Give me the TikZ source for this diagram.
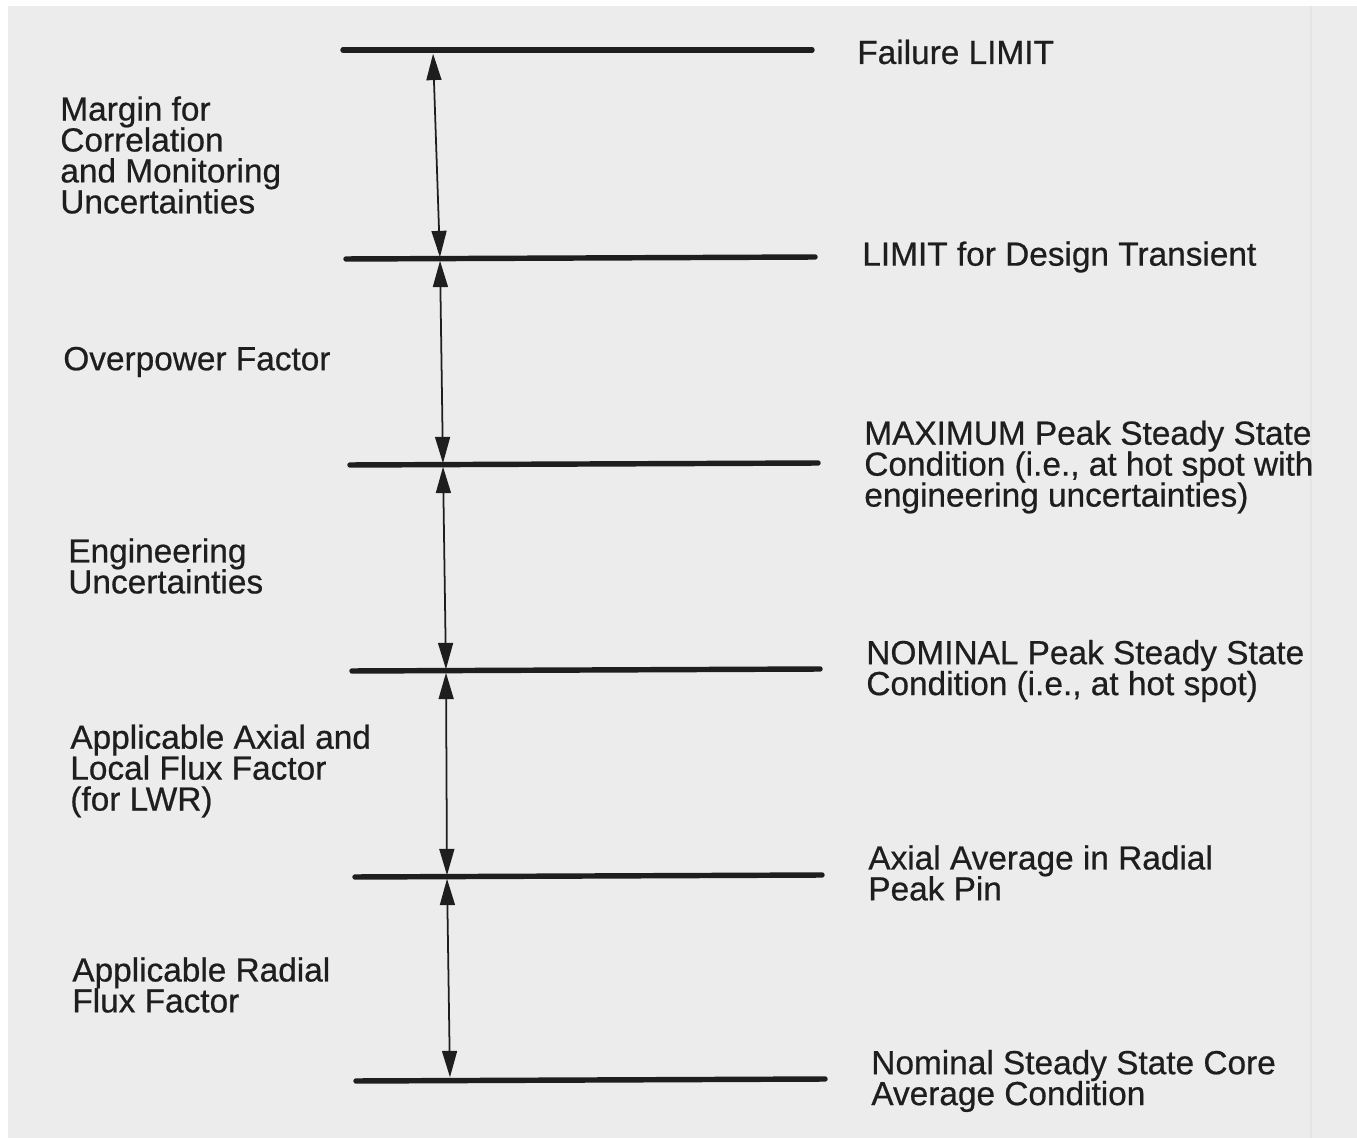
\documentclass[tikz,border=0pt]{standalone}
\usepackage{fontspec}
\setmainfont{Liberation Sans}
\newfontfamily\lblface{Liberation Sans}[FakeBold=0.6]
\usepackage{xcolor}
\usetikzlibrary{arrows.meta}
\definecolor{paper}{RGB}{236,236,236}
\definecolor{ink}{RGB}{30,30,30}
\newcommand{\lblfont}{\lblface\fontsize{19}{17.6}\selectfont\lineskiplimit-10pt\relax}

\begin{document}
\begin{tikzpicture}[x=0.02cm, y=-0.02cm,
    level/.style={draw=ink, line width=3.1pt, line cap=round},
    span/.style={{Triangle[length=15pt,width=8.5pt]}-{Triangle[length=15pt,width=8.5pt]}, draw=ink, line width=1pt, shorten <=1pt, shorten >=1pt},
    lbl/.style={anchor=west, align=left, inner sep=0pt, text=ink, font=\lblfont}
]
\useasboundingbox (0,0) rectangle (1357,1138);
\fill[paper] (8,6) rectangle (1357,1138);
\draw[white!80!gray, line width=1pt] (1311,6) -- (1311,1138);

% levels
\coordinate (l1w) at (343,50);  \coordinate (l1e) at (812,50);
\coordinate (l2w) at (346,259); \coordinate (l2e) at (815,257);
\coordinate (l3w) at (350,465); \coordinate (l3e) at (818,463);
\coordinate (l4w) at (352,671); \coordinate (l4e) at (820,669);
\coordinate (l5w) at (355,877); \coordinate (l5e) at (822,875);
\coordinate (l6w) at (356,1081); \coordinate (l6e) at (825,1079);
\draw[level] (l1w) -- (l1e);
\draw[level] (l2w) -- (l2e);
\draw[level] (l3w) -- (l3e);
\draw[level] (l4w) -- (l4e);
\draw[level] (l5w) -- (l5e);
\draw[level] (l6w) -- (l6e);

% arrow stops
\coordinate (a1) at (433,52);
\coordinate (a2) at (440,259);
\coordinate (a3) at (443,465);
\coordinate (a4) at (446,671);
\coordinate (a5) at (447,877);
\coordinate (a6) at (450,1079);
\draw[span] (a1) -- (a2);
\draw[span] (a2) -- (a3);
\draw[span] (a3) -- (a4);
\draw[span] (a4) -- (a5);
\draw[span] (a5) -- (a6);

% left labels
\node[lbl] (marg) at (60,155) {Margin for\\Correlation\\and Monitoring\\Uncertainties};
\node[lbl] (over) at (63,362) {Overpower Factor};
\node[lbl] (eng) at (68,566) {Engineering\\Uncertainties};
\node[lbl] (axial) at (70,771) {Applicable Axial and\\Local Flux Factor\\(for LWR)};
\node[lbl] (radial) at (72,985) {Applicable Radial\\Flux Factor};

% right labels
\node[lbl] (fail) at (857,52) {Failure LIMIT};
\node[lbl] (trans) at (862,257) {LIMIT for Design Transient};
\node[lbl] (maxpk) at (864,467) {MAXIMUM Peak Steady State\\Condition (i.e., at hot spot with\\engineering uncertainties)};
\node[lbl] (nompk) at (866,671) {NOMINAL Peak Steady State\\Condition (i.e., at hot spot)};
\node[lbl] (axavg) at (868,873) {Axial Average in Radial\\Peak Pin};
\node[lbl] (core) at (871,1081) {Nominal Steady State Core\\Average Condition};
\end{tikzpicture}
\end{document}
